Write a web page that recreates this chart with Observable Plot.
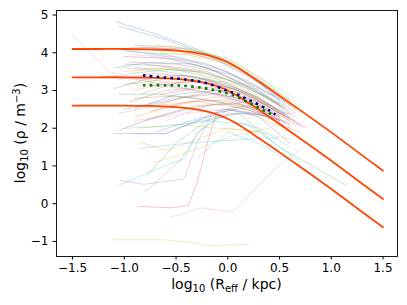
<!DOCTYPE html>
<html><head><meta charset="utf-8">
<script src="https://cdn.jsdelivr.net/npm/d3@7"></script>
<script src="https://cdn.jsdelivr.net/npm/@observablehq/plot@0.6"></script>
<style>body{margin:0;background:#fff} svg{display:block}</style>
</head><body><div id="chart"></div>
<script>
// model curves
const modelX    = [-1.5, -1.25, -1.0, -0.75, -0.5, -0.25, 0.0, 0.25, 0.5, 0.75, 1.0, 1.25, 1.5];
const modelHigh = [4.10, 4.10, 4.10, 4.09, 4.06, 3.97, 3.75, 3.33, 2.86, 2.38, 1.89, 1.38, 0.875];
const modelMid  = [3.35, 3.35, 3.35, 3.34, 3.31, 3.22, 3.00, 2.58, 2.11, 1.63, 1.14, 0.63, 0.125];
const modelLow  = [2.60, 2.60, 2.60, 2.59, 2.56, 2.47, 2.25, 1.83, 1.36, 0.88, 0.39, -0.12, -0.625];
// dotted mean / median profiles
const blueX  = [-0.82, -0.6, -0.4, -0.2, 0.0, 0.1, 0.2, 0.3, 0.4, 0.46];
const blueY  = [3.40, 3.34, 3.29, 3.19, 2.99, 2.89, 2.75, 2.62, 2.47, 2.36];
const greenX = [-0.82, -0.6, -0.4, -0.2, 0.0, 0.1, 0.2, 0.3, 0.4, 0.45];
const greenY = [3.14, 3.14, 3.12, 3.05, 2.92, 2.82, 2.68, 2.54, 2.40, 2.33];
// individual galaxy profiles [x, y]
const profiles = [
 [[-1.08,4.82],[-0.7,4.5],[-0.3,4.1],[0.1,3.6],[0.5,2.8]],
 [[-0.85,1.63],[-0.59,1.41],[-0.3,1.7],[0,2.0],[0.3,1.9]],
 [[-0.78,0.75],[-0.49,1.63],[-0.2,2.2],[0.1,2.4],[0.5,1.5],[1.14,0.49]],
 [[-0.87,-0.07],[-0.55,-0.11],[-0.38,-0.05],[-0.29,0.62],[-0.2,1.59],[-0.1,2.47],[0.2,2.6],[0.5,2.2]],
 [[-1.04,0.62],[-0.81,0.51],[-0.42,0.66],[-0.3,1.59],[-0.15,2.4],[0.2,2.55],[0.5,2.2]],
 [[-0.9,4.2],[-0.5,4.15],[-0.1,3.9],[0.3,3.3],[0.6,2.6]],
 [[-0.55,-0.35],[-0.25,-0.11],[0.05,-0.22],[0.28,0.44],[0.51,1.06],[0.73,1.5]],
 [[-0.80,0.31],[-0.46,1.15],[-0.27,1.94],[0,2.4],[0.4,2.35]],
 [[-1.1,-0.955],[-0.62,-0.955],[-0.37,-1.02],[-0.17,-1.11],[0.2,-1.08]],
 [[-1.05,0.49],[-0.72,0.88],[-0.42,1.19],[-0.3,1.86],[0,2.5],[0.4,2.3]],
 [[-1.05,4.7],[-0.6,4.35],[-0.2,3.95],[0.2,3.4],[0.55,2.7]],
 [[-0.95,4.1],[-0.5,4.05],[0,3.75],[0.4,3.1],[0.65,2.5]],
 [[-0.85,4.15],[-0.4,4.1],[0,3.85],[0.35,3.25],[0.6,2.75]],
 [[-1.0,3.9],[-0.6,3.85],[-0.2,3.6],[0.2,3.1],[0.5,2.6]],
 [[-1.1,1.86],[-0.6,1.86],[-0.2,2.3],[0.2,2.4],[0.65,2.4]],
 [[-0.95,3.75],[-0.5,3.7],[-0.1,3.5],[0.3,3.0],[0.55,2.5]],
 [[-1.5,4.49],[-1.14,3.49],[-0.8,3.3],[-0.3,3.1],[0.3,2.6],[0.6,2.2]],
 [[-1.1,3.05],[-0.8,3.3],[-0.4,3.4],[0,3.2],[0.4,2.6]],
 [[-0.72,1.08],[-0.42,1.33],[0.06,1.81],[0.4,2.0]],
 [[-0.85,1.46],[-0.4,1.6],[0.22,1.72],[0.5,1.75]],
 [[-0.7,1.9],[-0.35,2.2],[0,2.5],[0.3,2.3],[0.6,1.6]],
 [[-1.0,3.5],[-0.6,3.6],[-0.2,3.45],[0.2,3.0],[0.5,2.45]],
 [[-0.9,3.6],[-0.5,3.55],[-0.1,3.3],[0.3,2.8],[0.55,2.35]],
 [[-1.05,3.3],[-0.7,3.45],[-0.3,3.35],[0.1,3.0],[0.45,2.5]],
 [[-0.85,2.9],[-0.5,3.2],[-0.2,3.25],[0.2,2.9],[0.5,2.4]],
 [[-0.95,2.7],[-0.6,3.0],[-0.2,3.1],[0.2,2.8],[0.6,2.2]],
 [[-0.9,2.2],[-0.4,2.4],[0,2.5],[0.4,2.3],[0.77,2.03]],
 [[-0.75,3.9],[-0.4,3.8],[0,3.5],[0.3,3.0],[0.6,2.45]],
 [[-0.7,4.2],[-0.3,4.1],[0.1,3.7],[0.4,3.2],[0.65,2.8]],
 [[-0.3,1.2],[0,1.9],[0.3,1.6],[0.83,0.80]],
 [[-1.0,2.5],[-0.6,2.7],[-0.2,2.95],[0.2,2.75],[0.5,2.3]],
 [[-0.9,2.3],[-0.5,2.6],[-0.1,2.85],[0.3,2.6],[0.6,2.1]],
 [[-0.8,2.2],[-0.4,2.5],[0,2.7],[0.35,2.45],[0.6,2.05]],
 [[-1.05,1.95],[-0.7,2.3],[-0.3,2.6],[0.1,2.65],[0.5,2.2]],
 [[-0.85,2.6],[-0.5,2.8],[-0.1,2.9],[0.3,2.55],[0.55,2.15]],
 [[-1.1,3.4],[-0.7,3.2],[-0.3,3.0],[0.1,2.8],[0.5,2.3]],
 [[-0.95,3.2],[-0.6,3.1],[-0.2,2.95],[0.2,2.65],[0.6,2.1]],
 [[-0.8,3.7],[-0.4,3.55],[0,3.3],[0.35,2.85],[0.65,2.3]],
 [[-0.65,4.0],[-0.3,3.95],[0.1,3.6],[0.45,3.0],[0.7,2.55]],
 [[-1.0,2.0],[-0.6,2.05],[-0.2,2.2],[0.2,2.1],[0.7,1.1]],
 [[-1.0,4.05],[-0.6,3.95],[-0.2,3.7],[0.2,3.25],[0.5,2.75]],
 [[-0.9,3.0],[-0.55,3.25],[-0.15,3.2],[0.25,2.8],[0.6,2.25]],
 [[-1.05,2.9],[-0.7,2.9],[-0.3,2.8],[0.1,2.6],[0.45,2.2]],
 [[-0.75,2.45],[-0.4,2.7],[0,2.75],[0.3,2.5],[0.55,2.05]],
 [[-0.9,1.85],[-0.6,1.85],[-0.3,2.2],[0.05,2.5],[0.4,2.3]],
 [[-1.0,3.7],[-0.6,3.65],[-0.2,3.5],[0.2,3.05],[0.55,2.55]],
 [[-0.95,3.95],[-0.55,3.9],[-0.15,3.65],[0.25,3.15],[0.6,2.6]],
 [[-0.85,3.35],[-0.45,3.4],[-0.05,3.2],[0.3,2.8],[0.6,2.3]],
 [[-0.8,4.0],[-0.4,3.95],[0,3.7],[0.4,3.05],[0.7,2.4]],
 [[-1.05,4.1],[-0.6,3.9],[-0.2,3.6],[0.2,3.1],[0.55,2.6]],
 [[-0.9,2.5],[-0.5,2.9],[-0.1,3.0],[0.3,2.7],[0.6,2.25]],
 [[-0.7,2.6],[-0.3,2.7],[0.1,2.55],[0.45,2.1],[0.7,1.9]],
 [[-1.0,3.15],[-0.6,3.3],[-0.2,3.3],[0.2,2.95],[0.55,2.4]],
 [[-0.75,3.1],[-0.35,3.25],[0.05,3.05],[0.4,2.6],[0.65,2.2]],
 [[-0.95,4.15],[-0.5,4.1],[-0.1,3.8],[0.3,3.2],[0.65,2.4]],
 [[-0.9,2.8],[-0.5,2.85],[-0.1,2.7],[0.3,2.4],[0.6,2.0]],
 [[-0.6,2.2],[-0.2,2.6],[0.2,2.7],[0.5,2.4],[0.75,2.0]],
 [[-1.0,3.6],[-0.6,3.5],[-0.2,3.3],[0.2,2.9],[0.6,2.35]],
 [[-0.85,2.0],[-0.5,2.1],[-0.1,2.0],[0.3,1.9],[0.6,1.7]],
 [[-0.5,2.0],[-0.1,2.3],[0.3,2.0],[0.6,1.5]],
 [[-1.1,3.6],[-0.75,3.75],[-0.35,3.7],[0.05,3.4],[0.45,2.85]],
 [[-1.05,2.4],[-0.75,2.55],[-0.4,2.85],[0,2.95],[0.4,2.5]],
 [[-0.95,3.45],[-0.6,3.55],[-0.25,3.5],[0.15,3.15],[0.5,2.65]],
 [[-0.65,2.9],[-0.3,3.05],[0.1,2.95],[0.4,2.55],[0.7,2.1]]
];
const xTicks = [-1.5, -1.0, -0.5, 0.0, 0.5, 1.0, 1.5];
const yTicks = [-1, 0, 1, 2, 3, 4, 5];

const tab10 = ["#1f77b4","#ff7f0e","#2ca02c","#d62728","#9467bd","#8c564b","#e377c2","#7f7f7f","#bcbd22","#17becf"];
const profileRows = profiles.flatMap((p, i) => p.map(([x, y]) => ({id: i, x, y, c: tab10[i % 10]})));
const toRows = (xs, ys) => xs.map((x, i) => ({x, y: ys[i]}));
const minus = s => s.replace("-", "\u2212");

const svg = Plot.plot({
  width: 407, height: 305,
  marginLeft: 56, marginRight: 10, marginTop: 10, marginBottom: 49,
  style: {fontFamily: "DejaVu Sans", fontSize: "12px", background: "#fff", color: "#000"},
  x: {domain: [-1.655, 1.64]},
  y: {domain: [-1.4, 5.12]},
  marks: [
    Plot.line(profileRows, {x: "x", y: "y", z: "id", stroke: "c", strokeOpacity: 0.3, strokeWidth: 0.9}),
    Plot.line(toRows(modelX, modelHigh), {x: "x", y: "y", stroke: "#ff4500", strokeWidth: 1.8, curve: "catmull-rom"}),
    Plot.line(toRows(modelX, modelMid), {x: "x", y: "y", stroke: "#ff4500", strokeWidth: 1.8, curve: "catmull-rom"}),
    Plot.line(toRows(modelX, modelLow), {x: "x", y: "y", stroke: "#ff4500", strokeWidth: 1.8, curve: "catmull-rom"}),
    Plot.line(toRows(blueX, blueY), {x: "x", y: "y", stroke: "#00008b", strokeWidth: 2.6, strokeDasharray: "2.6,4.3", strokeLinecap: "butt", curve: "catmull-rom"}),
    Plot.line(toRows(greenX, greenY), {x: "x", y: "y", stroke: "#008000", strokeWidth: 2.6, strokeDasharray: "2.6,4.3", strokeLinecap: "butt", curve: "catmull-rom"}),
    Plot.frame({stroke: "#000", strokeWidth: 0.9}),
    Plot.axisX({ticks: xTicks, tickFormat: d => minus(d.toFixed(1)), tickSize: 3.5, tickPadding: 3, label: null}),
    Plot.axisY({ticks: yTicks, tickFormat: d => minus(String(d)), tickSize: 3.5, tickPadding: 4.5, label: null})
  ]
});
document.getElementById("chart").appendChild(svg);

const s = d3.select(svg);
const xl = s.append("text").attr("x", 226.5).attr("y", 289).attr("text-anchor", "middle")
  .attr("font-family", "DejaVu Sans").attr("font-size", 14).attr("fill", "#000");
xl.append("tspan").text("log");
xl.append("tspan").attr("font-size", 10).attr("dy", 3).text("10");
xl.append("tspan").attr("dy", -3).text(" (R");
xl.append("tspan").attr("font-size", 10).attr("dy", 3).text("eff");
xl.append("tspan").attr("dy", -3).text(" / kpc)");

const yl = s.append("text").attr("transform", "translate(25,133) rotate(-90)").attr("text-anchor", "middle")
  .attr("font-family", "DejaVu Sans").attr("font-size", 14).attr("fill", "#000");
yl.append("tspan").text("log");
yl.append("tspan").attr("font-size", 10).attr("dy", 3).text("10");
yl.append("tspan").attr("dy", -3).text(" (\u03c1 / m");
yl.append("tspan").attr("font-size", 10).attr("dy", -5.5).text("\u22123");
yl.append("tspan").attr("dy", 5.5).text(")");
</script></body></html>
